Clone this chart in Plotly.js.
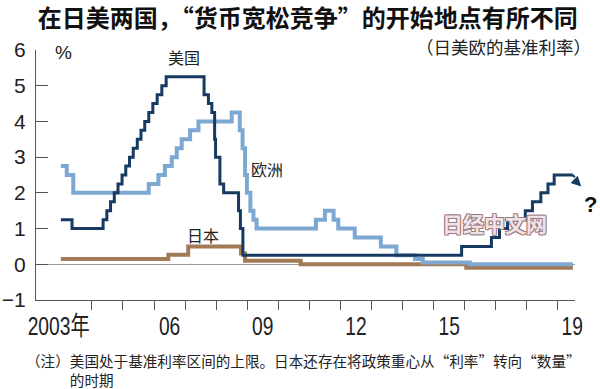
<!DOCTYPE html>
<html>
<head>
<meta charset="utf-8">
<script src="https://cdn.plot.ly/plotly-3.0.1.min.js"></script>
<style>html,body{margin:0;padding:0;background:#fff;}#chart{width:600px;height:389px;}</style>
</head>
<body>
<div id="chart"></div>
<script>
// ---- data (decimal years, step changes) ----
const usDates = [2003.0, 2003.36, 2004.36, 2004.48, 2004.6, 2004.72, 2004.84, 2004.97, 2005.09, 2005.21, 2005.33, 2005.46, 2005.58, 2005.7, 2005.83, 2005.96, 2006.1, 2006.25, 2006.39, 2007.61, 2007.75, 2007.86, 2007.95, 2007.98, 2008.12, 2008.24, 2008.72, 2008.78, 2008.86, 2015.9, 2016.86, 2017.12, 2017.38, 2017.95, 2018.18, 2018.45, 2018.68, 2018.88, 2019.48];
const usRate  = [1.25, 1.0, 1.25, 1.5, 1.75, 2.0, 2.25, 2.5, 2.75, 3.0, 3.25, 3.5, 3.75, 4.0, 4.25, 4.5, 4.75, 5.0, 5.25, 4.75, 4.5, 4.25, 3.5, 3.0, 2.25, 2.0, 1.5, 1.0, 0.25, 0.5, 0.75, 1.0, 1.25, 1.5, 1.75, 2.0, 2.25, 2.5, 2.5];

const euDates = [2003.0, 2003.19, 2003.4, 2005.83, 2006.14, 2006.35, 2006.57, 2006.73, 2006.89, 2007.16, 2007.43, 2008.5, 2008.76, 2008.85, 2008.93, 2008.99, 2009.1, 2009.2, 2009.3, 2011.21, 2011.5, 2011.78, 2011.93, 2012.46, 2013.3, 2013.8, 2014.4, 2014.65, 2016.16, 2019.48];
const euRate  = [2.75, 2.5, 2.0, 2.25, 2.5, 2.75, 3.0, 3.25, 3.5, 3.75, 4.0, 4.25, 3.75, 3.25, 2.5, 2.0, 1.5, 1.25, 1.0, 1.25, 1.5, 1.25, 1.0, 0.75, 0.5, 0.25, 0.15, 0.05, 0.0, 0.0];

const jpDates = [2003.0, 2006.46, 2007.1, 2008.8, 2008.93, 2010.72, 2016.05, 2019.48];
const jpRate  = [0.15, 0.27, 0.5, 0.3, 0.1, 0.0, -0.1, -0.1];

const tickYears = [2004, 2005, 2006, 2007, 2008, 2009, 2010, 2011, 2012, 2013, 2014, 2015, 2016, 2017, 2018, 2019];
const labelPos  = [2002.93, 2006.5, 2009.5, 2012.5, 2015.5, 2019.46];
const labelText = ['2003年', '06', '09', '12', '15', '19'];
const yTicks = [-1, 0, 1, 2, 3, 4, 5, 6];

const xRange = [2002.2, 2019.55];
const CJK = '"Noto Sans CJK SC", "Noto Sans CJK JP", sans-serif';

function toPaperX(v) { return (v - xRange[0]) / (xRange[1] - xRange[0]); }

const usLastX = usDates[usDates.length - 1];
const usLastY = usRate[usRate.length - 1];

const traces = [
  {x: jpDates, y: jpRate, mode: 'lines', line: {shape: 'hv', color: '#a27a56', width: 4}, hoverinfo: 'skip', name: '日本'},
  {x: euDates, y: euRate, mode: 'lines', line: {shape: 'hv', color: '#7ca8d2', width: 4}, hoverinfo: 'skip', name: '欧洲'},
  {x: usDates, y: usRate, mode: 'lines', line: {shape: 'hv', color: '#163a62', width: 3}, hoverinfo: 'skip', name: '美国'},
  {x: [2010], y: [-5], xaxis: 'x2', mode: 'markers', marker: {opacity: 0}, hoverinfo: 'skip', showlegend: false}
];

const layout = {
  width: 600, height: 389,
  margin: {l: 36, r: 25, t: 50, b: 89, pad: 0},
  paper_bgcolor: '#fff', plot_bgcolor: '#fff',
  showlegend: false,
  title: {
    text: '<b>在日美两国，“货币宽松竞争”的开始地点有所不同</b>',
    font: {family: CJK, size: 24, color: '#111'},
    x: 0.513, xanchor: 'center', xref: 'container',
    y: 1 - 19 / 389, yanchor: 'middle', yref: 'container'
  },
  xaxis: {
    range: xRange, tickvals: tickYears, showticklabels: false,
    ticks: 'outside', ticklen: 9, tickwidth: 1, tickcolor: '#555',
    showline: true, linecolor: '#555', linewidth: 1,
    showgrid: false, zeroline: false, fixedrange: true
  },
  xaxis2: {
    overlaying: 'x', anchor: 'y', side: 'bottom', matches: 'x',
    range: xRange, tickvals: labelPos, ticktext: labelText,
    ticks: '', showline: false, showgrid: false, zeroline: false,
    tickfont: {family: '"Liberation Sans", Arial, "Noto Sans CJK SC", sans-serif', size: 26, color: '#222'},
    ticklabelstandoff: 8
  },
  yaxis: {
    range: [-1, 6], tickvals: yTicks,
    ticks: 'inside', ticklen: 12, tickwidth: 1, tickcolor: '#555',
    showline: true, linecolor: '#555', linewidth: 1,
    showgrid: false, zeroline: true, zerolinecolor: '#999', zerolinewidth: 1,
    tickfont: {family: '"Liberation Sans", Arial, sans-serif', size: 21, color: '#222'},
    ticklabelstandoff: 5, fixedrange: true
  },
  shapes: [
    {type: 'line', xref: 'paper', yref: 'y',
     x0: toPaperX(usLastX), y0: usLastY, x1: toPaperX(usLastX + 0.22), y1: usLastY - 0.22,
     line: {color: '#163a62', width: 2, dash: 'dot'}}
  ],
  annotations: [
    {xref: 'paper', yref: 'y', x: toPaperX(usLastX + 0.27), y: usLastY - 0.32, ax: -6, ay: -6,
     showarrow: true, arrowhead: 2, arrowsize: 1, arrowwidth: 2, arrowcolor: '#163a62', text: ''},
    {xref: 'paper', yref: 'y', x: toPaperX(usLastX + 0.85), y: 1.68, text: '<b>?</b>', showarrow: false,
     font: {family: '"Liberation Sans", Arial, sans-serif', size: 22, color: '#111'}},
    {xref: 'paper', yref: 'paper', x: (593 - 36) / 539, y: (300 - 46) / 250, xanchor: 'right', yanchor: 'middle',
     text: '（日美欧的基准利率）', showarrow: false, font: {family: CJK, size: 17.5, color: '#222'}},
    {xref: 'x', yref: 'y', x: 2003.09, y: 5.92, text: '%', showarrow: false,
     font: {family: '"Liberation Sans", Arial, sans-serif', size: 19, color: '#222'}},
    {xref: 'x', yref: 'y', x: 2006.96, y: 5.81, text: '美国', showarrow: false, font: {family: CJK, size: 16, color: '#222'}},
    {xref: 'x', yref: 'y', x: 2009.63, y: 2.67, text: '欧洲', showarrow: false, font: {family: CJK, size: 16, color: '#222'}},
    {xref: 'x', yref: 'y', x: 2007.58, y: 0.82, text: '日本', showarrow: false, font: {family: CJK, size: 16, color: '#222'}},
    {xref: 'x', yref: 'y', x: 2016.97, y: 1.16, text: '<b>日经中文网</b>', showarrow: false,
     font: {family: CJK, size: 21, color: '#efe3e6',
            shadow: '1px 1px 0 #9b7b82, -1px -1px 0 #9b7b82, 1px -1px 0 #9b7b82, -1px 1px 0 #9b7b82'}},
    {xref: 'paper', yref: 'paper', x: (24 - 36) / 539, y: (300 - 348) / 250, xanchor: 'left', yanchor: 'top',
     align: 'left',
     text: '（注）美国处于基准利率区间的上限。日本还存在将政策重心从“利率”转向“数量”<br>　　　的时期',
     showarrow: false, font: {family: CJK, size: 14.6, color: '#222'}}
  ]
};

Plotly.newPlot('chart', traces, layout, {staticPlot: true, displayModeBar: false}).then(function (gd) {
  // condensed look for the year labels (scale horizontally around each label's own centre)
  gd.querySelectorAll('g.x2tick text').forEach(function (t) {
    const tr = t.getAttribute('transform') || '';
    t.setAttribute('transform', tr + ' scale(0.74,1)');
  });
});
</script>
</body>
</html>
